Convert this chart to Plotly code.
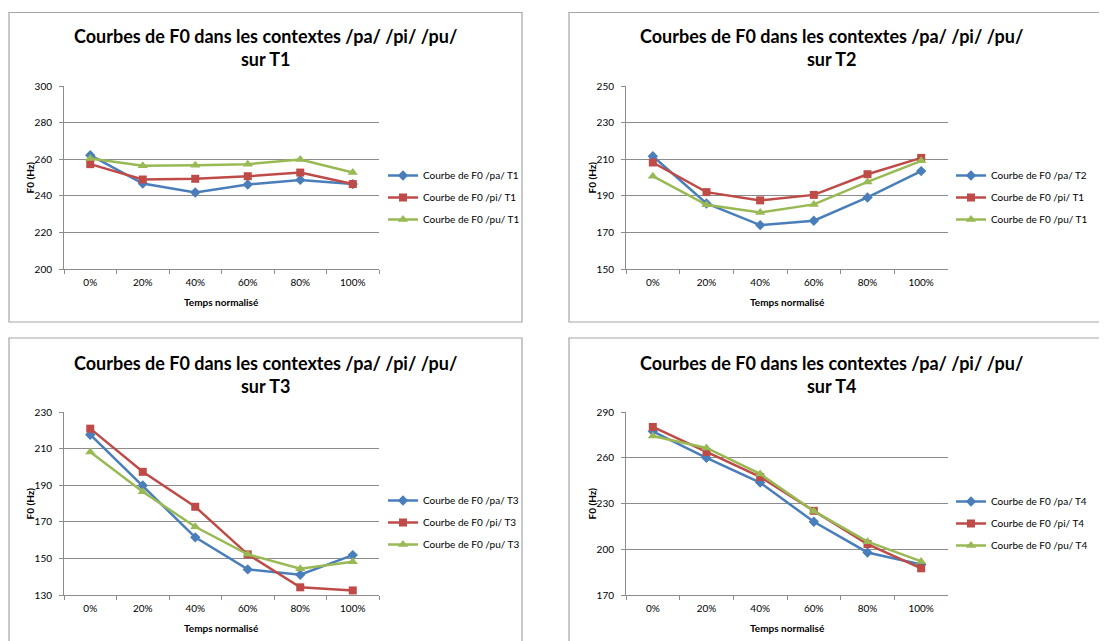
import plotly.graph_objects as go

W, H = 1107, 641
OFF = 8  # the page body adds an 8px margin

temps = ['0%', '20%', '40%', '60%', '80%', '100%']

# T1
pa_t1 = [262.2, 246.7, 241.8, 246.2, 248.7, 246.4]
pi_t1 = [257.3, 248.9, 249.3, 250.7, 252.7, 246.4]
pu_t1 = [260.4, 256.4, 256.7, 257.3, 259.8, 252.7]
# T2
pa_t2 = [211.6, 185.8, 174.0, 176.4, 189.1, 203.5]
pi_t2 = [208.2, 192.0, 187.5, 190.5, 201.8, 210.7]
pu_t2 = [200.7, 185.1, 180.9, 185.3, 197.6, 209.1]
# T3
pa_t3 = [217.6, 189.8, 161.5, 144.0, 141.1, 151.8]
pi_t3 = [220.9, 197.3, 178.2, 152.2, 134.2, 132.5]
pu_t3 = [208.2, 186.4, 167.3, 152.2, 144.4, 148.2]
# T4
pa_t4 = [277.3, 259.9, 243.7, 218.0, 197.9, 190.0]
pi_t4 = [280.2, 263.8, 247.4, 225.2, 203.4, 187.5]
pu_t4 = [274.3, 266.4, 249.4, 225.0, 205.0, 192.0]

panels = [
    {'ton': 'T1', 'series': [('Courbe de F0 /pa/ T1', pa_t1), ('Courbe de F0 /pi/ T1', pi_t1), ('Courbe de F0 /pu/ T1', pu_t1)],
     'yrange': [200, 300], 'dtick': 20},
    {'ton': 'T2', 'series': [('Courbe de F0 /pa/ T2', pa_t2), ('Courbe de F0 /pi/ T1', pi_t2), ('Courbe de F0 /pu/ T1', pu_t2)],
     'yrange': [150, 250], 'dtick': 20},
    {'ton': 'T3', 'series': [('Courbe de F0 /pa/ T3', pa_t3), ('Courbe de F0 /pi/ T3', pi_t3), ('Courbe de F0 /pu/ T3', pu_t3)],
     'yrange': [130, 230], 'dtick': 20},
    {'ton': 'T4', 'series': [('Courbe de F0 /pa/ T4', pa_t4), ('Courbe de F0 /pi/ T4', pi_t4), ('Courbe de F0 /pu/ T4', pu_t4)],
     'yrange': [170, 290], 'dtick': 30},
]

colors = ['#4A7EBB', '#BE4B48', '#98B954']
symbols = ['diamond', 'square', 'triangle-up']
msizes = [8, 8, 9]

FONT = 'Lato'
GRID = '#8C8C8C'


def px(x):
    return (x - OFF) / W


def py(y):
    return 1 - (y - OFF) / H


# pixel geometry of each chart: plot left, right, top, bottom, frame box, legend pos
geo = [
    dict(l=64, r=379, t=86, b=269, frame=(9, 12.5, 522, 322), leg=(383, 161)),
    dict(l=626, r=948, t=86, b=269, frame=(569, 12.5, 1130, 322), leg=(951, 161)),
    dict(l=64, r=379, t=412, b=595, frame=(9, 338, 522, 660), leg=(383, 486)),
    dict(l=626, r=948, t=412, b=595, frame=(569, 338, 1130, 660), leg=(951, 487)),
]

fig = go.Figure()
shapes = []
annotations = []

for i, (p, g) in enumerate(zip(panels, geo)):
    n = '' if i == 0 else str(i + 1)
    leg = 'legend' if i == 0 else 'legend' + str(i + 1)
    for j, (name, vals) in enumerate(p['series']):
        fig.add_trace(go.Scatter(
            x=temps, y=vals, name=name, mode='lines+markers',
            line=dict(color=colors[j], width=2.5),
            marker=dict(symbol=symbols[j], size=msizes[j], color=colors[j]),
            xaxis='x' + n, yaxis='y' + n, legend=leg,
            legendgroup='g%d_%d' % (i, j),
        ))

    fig.update_layout({
        'xaxis' + n: dict(
            domain=[px(g['l']), px(g['r'])], anchor='y' + n,
            type='category', range=[-0.5, 5.5], automargin=False,
            showline=True, linecolor=GRID, linewidth=1,
            ticks='outside', tickson='boundaries', ticklen=4, tickcolor=GRID,
            ticklabelstandoff=4,
            showgrid=False, tickfont=dict(size=10, color='#000'),
        ),
        'yaxis' + n: dict(
            domain=[py(g['b']), py(g['t'])], anchor='x' + n,
            range=p['yrange'], dtick=p['dtick'], tick0=p['yrange'][0],
            automargin=False,
            showline=True, linecolor=GRID, linewidth=1,
            ticks='outside', ticklen=4, tickcolor=GRID,
            ticklabelstandoff=5,
            showgrid=True, gridcolor=GRID, gridwidth=1, zeroline=False,
            tickfont=dict(size=10, color='#000'),
        ),
        leg: dict(
            x=px(g['leg'][0]), y=py(g['leg'][1]), xanchor='left', yanchor='top',
            font=dict(size=10, color='#000'), bgcolor='rgba(0,0,0,0)',
            itemwidth=30, tracegroupgap=3,
        ),
    })

    fx0, fy0, fx1, fy1 = g['frame']
    shapes.append(dict(type='rect', xref='paper', yref='paper',
                       x0=px(fx0), x1=px(fx1), y0=py(fy1), y1=py(fy0),
                       line=dict(color='#A6A6A6', width=1.2)))

    cx = (g['l'] + g['r']) / 2 + 44
    annotations.append(dict(
        text='<b>Courbes de F0 dans les contextes /pa/ /pi/ /pu/<br>sur ' + p['ton'] + '</b>',
        xref='paper', yref='paper', x=px(cx), y=py(g['t'] - 38),
        xanchor='center', yanchor='middle', showarrow=False,
        font=dict(size=18, color='#000', family=FONT),
    ))
    annotations.append(dict(
        text='<b>Temps normalisé</b>', xref='paper', yref='paper',
        x=px((g['l'] + g['r']) / 2), y=py(g['b'] + 33),
        xanchor='center', yanchor='middle', showarrow=False,
        font=dict(size=10, color='#000', family=FONT),
    ))
    annotations.append(dict(
        text='<b>F0 (Hz)</b>', xref='paper', yref='paper',
        x=px(g['l'] - 35), y=py((g['t'] + g['b']) / 2),
        xanchor='center', yanchor='middle', textangle=-90, showarrow=False,
        font=dict(size=10, color='#000', family=FONT),
    ))

fig.update_layout(
    width=W, height=H, margin=dict(l=0, r=0, t=0, b=0),
    paper_bgcolor='white', plot_bgcolor='white',
    font=dict(family=FONT, color='#000'),
    shapes=shapes, annotations=annotations,
)

fig.write_html('out.html')
